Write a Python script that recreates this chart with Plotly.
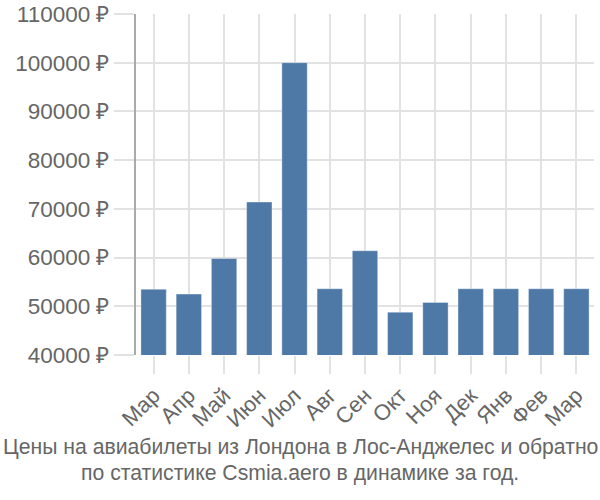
import plotly.graph_objects as go

months = ["Мар", "Апр", "Май", "Июн", "Июл", "Авг", "Сен", "Окт", "Ноя", "Дек", "Янв", "Фев", "Мар"]
prices = [53500, 52500, 59800, 71400, 100000, 53600, 61400, 48800, 50800, 53600, 53600, 53600, 53600]
y_ticks = [40000, 50000, 60000, 70000, 80000, 90000, 100000, 110000]
y_labels = [f"{v} ₽" for v in y_ticks]
title_lines = ["Цены на авиабилеты из Лондона в Лос-Анджелес и обратно",
               "по статистике Csmia.aero в динамике за год."]

font_family = "Liberation Sans, Arial, sans-serif"
W, H = 600, 500
ML, MR, MT, MB = 136, 6, 14, 145

fig = go.Figure()
fig.add_trace(go.Bar(
    x=list(range(len(months))),
    y=prices,
    marker=dict(color="#4e79a7", line=dict(color="rgba(255,255,255,0.35)", width=1)),
    width=0.72,
))

fig.update_layout(
    width=W, height=H,
    margin=dict(l=ML, r=MR, t=MT, b=MB),
    paper_bgcolor="white", plot_bgcolor="white",
    showlegend=False,
    font=dict(family=font_family, color="#666666"),
    xaxis=dict(
        tickmode="array",
        tickvals=list(range(len(months))),
        ticktext=months,
        range=[-0.5, len(months) - 0.5],
        tickangle=-45,
        tickfont=dict(size=22, color="#666666"),
        showgrid=True, gridcolor="#e2e2e2", gridwidth=2,
        ticks="outside", ticklen=18, tickcolor="#e2e2e2", tickwidth=2,
        tickson="boundaries",
        showline=False, zeroline=False,
        automargin=False,
    ),
    yaxis=dict(
        range=[40000, 110000],
        tickmode="array",
        tickvals=y_ticks,
        ticktext=y_labels,
        tickfont=dict(size=22.5, color="#666666"),
        showgrid=True, gridcolor="#e2e2e2", gridwidth=2,
        ticks="outside", ticklen=20, tickcolor="#e2e2e2", tickwidth=2,
        showline=True, linecolor="#aaaaaa", linewidth=2,
        zeroline=False,
        automargin=False,
        ticklabeloverflow="allow",
    ),
)

plot_h = H - MT - MB
plot_w = W - ML - MR
for line, py in zip(title_lines, [447, 473]):
    fig.add_annotation(
        text=line, showarrow=False,
        xref="paper", yref="paper",
        x=(W / 2 - ML) / plot_w, y=(H - MB - py) / plot_h,
        xanchor="center", yanchor="middle",
        font=dict(size=21.2, color="#666666"),
    )

fig.write_html("out.html", config={"displayModeBar": False},
               post_script="document.body.style.margin='0px';")
